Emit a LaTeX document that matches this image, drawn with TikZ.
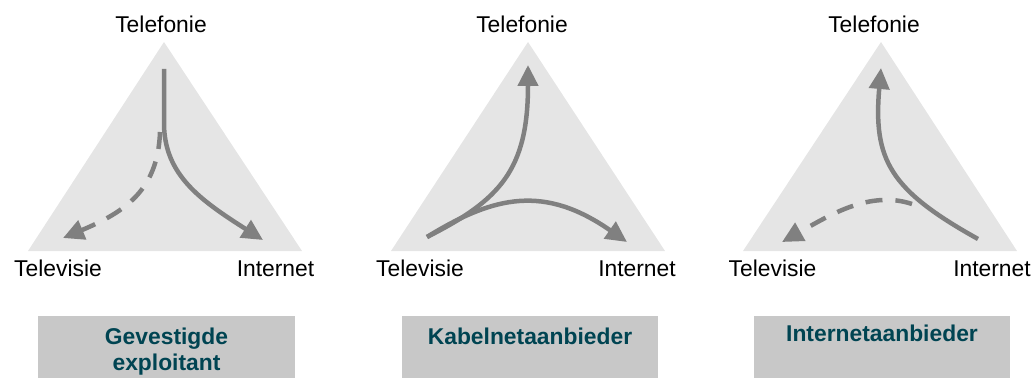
\documentclass[tikz,border=0pt]{standalone}
\usepackage{fontspec}
\setmainfont{Liberation Sans}
\usetikzlibrary{arrows.meta,positioning}
\definecolor{PlaneGrey}{RGB}{229,229,229}
\definecolor{RoleGrey}{RGB}{200,200,200}
\definecolor{ArrowGrey}{RGB}{128,128,128}
\definecolor{RoleTeal}{RGB}{0,68,82}
\tikzset{
  plane/.style={fill=PlaneGrey,draw=none},
  corner/.style={font=\fontsize{13}{15.6}\selectfont,anchor=base,inner sep=0pt},
  role/.style={fill=RoleGrey,draw=none,minimum width=5.14cm,minimum height=1.24cm,
    inner sep=0pt},
  rolename/.style={font=\fontsize{13}{14.7}\selectfont\bfseries,text=RoleTeal,
    align=center,inner sep=0pt},
  move/.style={-{Triangle[length=0.42cm,width=0.4cm]},line width=0.09cm,
    draw=ArrowGrey},
  planned/.style={move,dash pattern=on 0.34cm off 0.26cm}
}

\begin{document}
\begin{tikzpicture}[x=0.02cm,y=-0.02cm]
      \useasboundingbox (0,0) rectangle (1034,378);
      % three markets per provider
      \fill[plane] (164,42) -- (302,251) -- (28,251) -- cycle;
      \fill[plane] (528,42) -- (665,251) -- (391,251) -- cycle;
      \fill[plane] (881,42) -- (1017,251) -- (743,251) -- cycle;

      \node[corner] (tel1) at (161,33) {Telefonie};
      \node[corner] (tv1) at (58,276) {Televisie};
      \node[corner] (int1) at (275.5,276) {Internet};
      \node[corner] (tel2) at (522,33) {Telefonie};
      \node[corner] (tv2) at (420,276) {Televisie};
      \node[corner] (int2) at (637,276) {Internet};
      \node[corner] (tel3) at (874,33) {Telefonie};
      \node[corner] (tv3) at (772.5,276) {Televisie};
      \node[corner] (int3) at (992,276) {Internet};

      % Gevestigde exploitant
      \coordinate (a1) at (164,69);
      \coordinate (b1) at (164,125);
      \coordinate (c1) at (160,132);
      \coordinate (d1) at (263,240);
      \coordinate (e1) at (63,238);
      \draw[move] (a1) -- (b1) .. controls (165,175) and (200,200) .. (d1);
      \draw[planned] (c1) .. controls (158,190) and (125,212) .. (e1);

      % Kabelnetaanbieder
      \coordinate (a2) at (427,237);
      \coordinate (d2) at (528,65);
      \coordinate (e2) at (627,242);
      \draw[move] (a2) .. controls (500,200) and (528,170) .. (d2);
      \draw[move] (a2) .. controls (495,195) and (545,185) .. (e2);

      % Internetaanbieder
      \coordinate (a3) at (978,239);
      \coordinate (c3) at (912,204);
      \coordinate (d3) at (881,68);
      \coordinate (e3) at (782,242);
      \draw[move] (a3) .. controls (890,190) and (873,160) .. (d3);
      \draw[planned] (c3) .. controls (870,190) and (830,215) .. (e3);

      \node[role] (role1) at (166.5,347) {};
      \node[role] (role2) at (530,347) {};
      \node[role] (role3) at (882,347) {};
      \node[rolename,below=0.24cm of role1.north] (name1) {Gevestigde\\exploitant};
      \node[rolename,below=0.24cm of role2.north] (name2) {Kabelnetaanbieder};
      \node[rolename,below=0.18cm of role3.north] (name3) {Internetaanbieder};
    \end{tikzpicture}
\end{document}
